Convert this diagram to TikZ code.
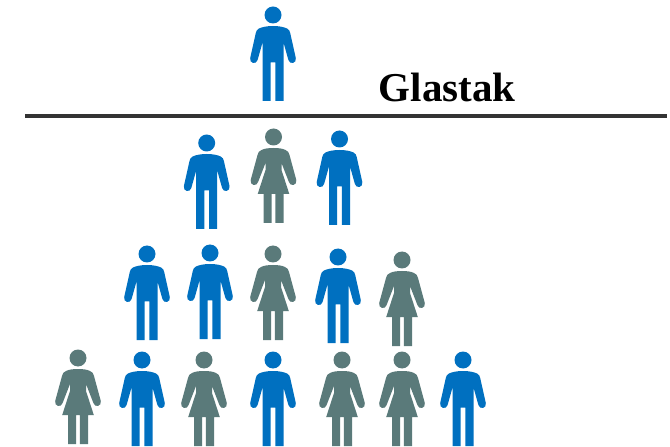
\documentclass[tikz,border=0pt]{standalone}
\usepackage{fontspec}
\setmainfont{Liberation Serif}
\definecolor{manblue}{HTML}{0070C0}
\definecolor{womangrey}{HTML}{5A7A7A}
\tikzset{
  x=1bp,y=-1bp,
  man/.pic={
    \fill[manblue] (0,0) circle[radius=8.5];
    \fill[manblue] (0,11) .. controls (-6,11) and (-11,12) .. (-14,13.5)
      .. controls (-16,14.5) and (-16.8,16) .. (-17.2,18)
      -- (-22.8,43) .. controls (-24,48.5) and (-16.6,50) .. (-15.4,45)
      -- (-10.5,27.5) -- (-10.5,86) -- (-2.4,86) -- (-2.4,47.5) -- (2.4,47.5) -- (2.4,86) -- (10.5,86) -- (10.5,27.5)
      -- (15.4,45) .. controls (16.6,50) and (24,48.5) .. (22.8,43)
      -- (17.2,18) .. controls (16.8,16) and (16,14.5) .. (14,13.5)
      .. controls (11,12) and (6,11) .. (0,11) -- cycle;
  },
  woman/.pic={
    \fill[womangrey] (0,0) circle[radius=8.5];
    \fill[womangrey] (0,11) .. controls (-5,11) and (-9,11.5) .. (-12,13)
      .. controls (-14.5,14) and (-15.5,15.5) .. (-16,18)
      -- (-22.8,43) .. controls (-24,48.5) and (-16.6,50) .. (-15.4,45)
      -- (-8,26) -- (-8,33) -- (-15.8,57) -- (-10,57) -- (-10,86) -- (-1.8,86) -- (-1.8,57) -- (1.8,57) -- (1.8,86) -- (10,86) -- (10,57) -- (15.8,57)
      -- (8,33) -- (8,26) -- (15.4,45) .. controls (16.6,50) and (24,48.5) .. (22.8,43)
      -- (16,18) .. controls (15.5,15.5) and (14.5,14) .. (12,13)
      .. controls (9,11.5) and (5,11) .. (0,11) -- cycle;
  },
  rule/.style={line width=3.4bp,draw=black!80},
  title/.style={font=\bfseries\fontsize{41bp}{45bp}\selectfont,text=black,inner sep=0pt,anchor=base west}
}
\begin{document}
\begin{tikzpicture}
\useasboundingbox (0,0) rectangle (670,447);
\pic at (273,15) {man};
\pic at (206.7,143) {man};
\pic at (273.5,137) {woman};
\pic at (339.5,139) {man};
\pic at (147,254) {man};
\pic at (210,253) {man};
\pic at (273,254) {woman};
\pic at (338,257) {man};
\pic at (402,260) {woman};
\pic at (78,358) {woman};
\pic at (142,360) {man};
\pic at (204,360) {woman};
\pic at (273,360) {man};
\pic at (342,360) {woman};
\pic at (402,360) {woman};
\pic at (463,360) {man};
\coordinate (ruleL) at (25,116);
\coordinate (ruleR) at (667,116);
\draw[rule] (ruleL) -- (ruleR);
\node[title] (glastak) at (378.5,102) {Glastak};
\end{tikzpicture}
\end{document}
